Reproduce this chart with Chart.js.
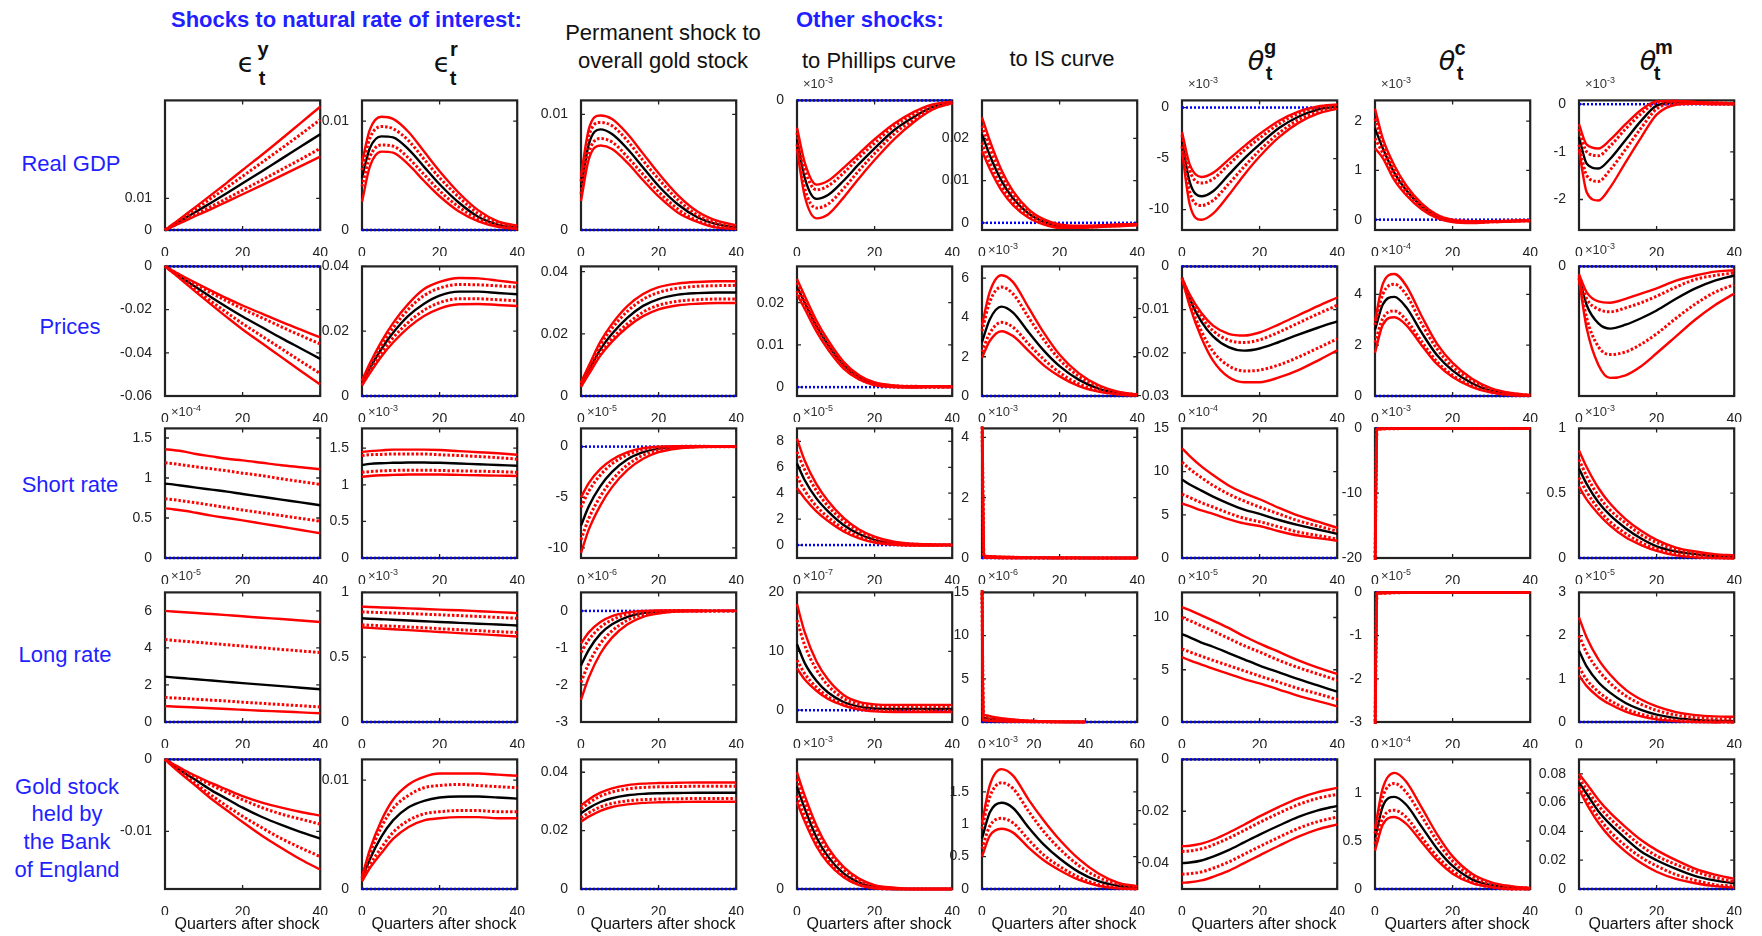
<!DOCTYPE html>
<html>
<head>
<meta charset="utf-8">
<script src="https://cdn.jsdelivr.net/npm/chart.js@4.4.0/dist/chart.umd.min.js"></script>
<style>
  body { margin: 0; width: 1762px; height: 936px; background: #fff; position: relative; overflow: hidden;
         font-family: "Liberation Sans", Arial, sans-serif; }
  .t { position: absolute; white-space: nowrap; line-height: 1; transform: translate(-50%, -50%); }
  .blue { color: #1f1fff; }
  .hdr { font-weight: bold; font-size: 22px; transform: translate(0, -50%); }
  .col { font-size: 22px; color: #111; }
  .row { font-size: 22px; }
  .greek { font-family: "DejaVu Sans", sans-serif; font-size: 27px; color: #111; }
  .idx { font-weight: bold; font-size: 20px; color: #111; }
  .xl { font-size: 16px; color: #111; }
  .exp { position: absolute; font-size: 13px; color: #333; line-height: 1; transform: translate(0, -50%); }
  .exp sup { font-size: 9px; vertical-align: 5px; }
</style>
</head>
<body>
<div class="t hdr blue" style="left:171px; top:20px">Shocks to natural rate of interest:</div>
<div class="t hdr blue" style="left:796px; top:20px">Other shocks:</div>

<div class="t greek" style="left:246px; top:62px">ϵ</div>
<div class="t idx" style="left:263px; top:49px">y</div>
<div class="t idx" style="left:262px; top:78px">t</div>
<div class="t greek" style="left:442px; top:62px">ϵ</div>
<div class="t idx" style="left:454px; top:49px">r</div>
<div class="t idx" style="left:453px; top:78px">t</div>
<div class="t col" style="left:663px; top:33px">Permanent shock to</div>
<div class="t col" style="left:663px; top:61px">overall gold stock</div>
<div class="t col" style="left:879px; top:61px">to Phillips curve</div>
<div class="t col" style="left:1062px; top:59px">to IS curve</div>
<div class="t greek" style="left:1256px; top:60px; font-style:italic">θ</div>
<div class="t idx" style="left:1270px; top:47px">g</div>
<div class="t idx" style="left:1269px; top:73px">t</div>
<div class="t greek" style="left:1447px; top:60px; font-style:italic">θ</div>
<div class="t idx" style="left:1460px; top:48px">c</div>
<div class="t idx" style="left:1460px; top:73px">t</div>
<div class="t greek" style="left:1648px; top:60px; font-style:italic">θ</div>
<div class="t idx" style="left:1664px; top:47px">m</div>
<div class="t idx" style="left:1657px; top:73px">t</div>

<div class="t row blue" style="left:71px; top:164px">Real GDP</div>
<div class="t row blue" style="left:70px; top:327px">Prices</div>
<div class="t row blue" style="left:70px; top:485px">Short rate</div>
<div class="t row blue" style="left:65px; top:655px">Long rate</div>
<div class="t row blue" style="left:67px; top:787px">Gold stock</div>
<div class="t row blue" style="left:67px; top:814px">held by</div>
<div class="t row blue" style="left:67px; top:842px">the Bank</div>
<div class="t row blue" style="left:67px; top:870px">of England</div>

<script>
// horizon in quarters after the shock
const quarters = [0, 2, 5, 8, 12, 16, 20, 25, 30, 35, 40];
// finer start for the panels that jump at impact
const spikeQuarters = [0, 0.5, 1, 5, 10, 20, 30, 40];

// every panel: [median, inner upper, inner lower, outer upper, outer lower]

// Real GDP
const gdpEy = [
  [0, 0.0014, 0.0036, 0.0058, 0.0087, 0.0117, 0.0148, 0.0186, 0.0225, 0.0264, 0.0303],
  [0, 0.0016, 0.0041, 0.0067, 0.0101, 0.0135, 0.0170, 0.0214, 0.0258, 0.0303, 0.0349],
  [0, 0.0012, 0.0031, 0.0050, 0.0075, 0.0100, 0.0126, 0.0158, 0.0191, 0.0224, 0.0258],
  [0, 0.0018, 0.0046, 0.0074, 0.0112, 0.0150, 0.0190, 0.0238, 0.0288, 0.0339, 0.0390],
  [0, 0.0011, 0.0028, 0.0045, 0.0067, 0.0090, 0.0113, 0.0142, 0.0172, 0.0202, 0.0232]
];
const gdpEr = [
  [0.0048, 0.0075, 0.0086, 0.0085, 0.0074, 0.0058, 0.0042, 0.0025, 0.0012, 0.0005, 0.0002],
  [0.0055, 0.0084, 0.0095, 0.0093, 0.0082, 0.0065, 0.0048, 0.0030, 0.0015, 0.0007, 0.0003],
  [0.0040, 0.0067, 0.0078, 0.0077, 0.0066, 0.0051, 0.0036, 0.0021, 0.0010, 0.0004, 0.0001],
  [0.0062, 0.0092, 0.0104, 0.0102, 0.0090, 0.0072, 0.0054, 0.0034, 0.0018, 0.0008, 0.0004],
  [0.0026, 0.0058, 0.0072, 0.0071, 0.0060, 0.0045, 0.0031, 0.0017, 0.0008, 0.0003, 0.0001]
];
const gdpGold = [
  [0.0036, 0.0074, 0.0087, 0.0083, 0.0070, 0.0054, 0.0038, 0.0022, 0.0011, 0.0005, 0.0002],
  [0.0042, 0.0081, 0.0093, 0.0090, 0.0077, 0.0060, 0.0044, 0.0026, 0.0013, 0.0006, 0.0003],
  [0.0031, 0.0067, 0.0079, 0.0076, 0.0063, 0.0048, 0.0033, 0.0018, 0.0008, 0.0003, 0.0001],
  [0.0047, 0.0087, 0.0099, 0.0096, 0.0083, 0.0066, 0.0049, 0.0030, 0.0016, 0.0008, 0.0004],
  [0.0025, 0.0061, 0.0073, 0.0070, 0.0058, 0.0043, 0.0029, 0.0015, 0.0007, 0.0002, 0.0001]
];
const gdpPc = [
  [-0.90, -1.80, -2.28, -2.19, -1.86, -1.47, -1.11, -0.69, -0.39, -0.15, -0.05],
  [-0.75, -1.59, -2.07, -1.98, -1.68, -1.32, -0.99, -0.60, -0.33, -0.12, -0.04],
  [-1.02, -2.04, -2.49, -2.40, -2.04, -1.62, -1.23, -0.78, -0.45, -0.18, -0.06],
  [-0.63, -1.44, -1.95, -1.86, -1.56, -1.23, -0.90, -0.54, -0.27, -0.09, -0.03],
  [-1.14, -2.22, -2.73, -2.64, -2.25, -1.80, -1.38, -0.90, -0.51, -0.21, -0.06]
];
const gdpIs = [
  [0.021, 0.016, 0.0100, 0.0058, 0.0022, 0.0002, -0.0008, -0.0010, -0.0008, -0.0006, -0.0004],
  [0.023, 0.0178, 0.0112, 0.0066, 0.0027, 0.0005, -0.0006, -0.0009, -0.0007, -0.0005, -0.0003],
  [0.019, 0.0142, 0.0088, 0.0050, 0.0017, -0.0001, -0.0010, -0.0011, -0.0009, -0.0007, -0.0005],
  [0.025, 0.0195, 0.0125, 0.0075, 0.0032, 0.0008, -0.0004, -0.0007, -0.0006, -0.0004, -0.0003],
  [0.017, 0.0128, 0.0077, 0.0042, 0.0012, -0.0004, -0.0012, -0.0012, -0.0010, -0.0008, -0.0006]
];
const gdpTg = [
  [-3.3, -7.3, -8.7, -8.2, -6.6, -5.0, -3.6, -2.0, -0.9, -0.2, 0.1],
  [-2.7, -6.2, -7.4, -7.0, -5.6, -4.2, -3.0, -1.6, -0.6, 0.0, 0.2],
  [-3.8, -8.3, -9.6, -9.1, -7.5, -5.8, -4.2, -2.5, -1.2, -0.4, 0.0],
  [-2.4, -5.6, -6.8, -6.4, -5.1, -3.8, -2.6, -1.3, -0.4, 0.1, 0.3],
  [-4.3, -9.5, -11.0, -10.4, -8.6, -6.6, -4.8, -2.9, -1.5, -0.6, -0.1]
];
const gdpTc = [
  [1.85, 1.45, 0.95, 0.60, 0.27, 0.07, -0.02, -0.05, -0.04, -0.03, -0.02],
  [2.05, 1.55, 1.02, 0.65, 0.30, 0.09, -0.01, -0.04, -0.035, -0.025, -0.015],
  [1.65, 1.35, 0.88, 0.55, 0.24, 0.05, -0.03, -0.06, -0.045, -0.035, -0.025],
  [2.25, 1.65, 1.10, 0.70, 0.33, 0.10, 0.0, -0.03, -0.03, -0.02, -0.01],
  [1.45, 1.25, 0.80, 0.50, 0.21, 0.03, -0.05, -0.07, -0.05, -0.04, -0.03]
];
const gdpTm = [
  [-0.69, -1.25, -1.35, -1.15, -0.75, -0.35, -0.03, 0.04, 0.03, 0.02, 0.01],
  [-0.52, -1.0, -1.08, -0.88, -0.52, -0.2, 0.03, 0.06, 0.04, 0.03, 0.02],
  [-0.85, -1.5, -1.62, -1.38, -0.95, -0.50, -0.10, 0.02, 0.02, 0.01, 0.0],
  [-0.42, -0.85, -0.93, -0.75, -0.42, -0.12, 0.06, 0.07, 0.05, 0.03, 0.02],
  [-0.95, -1.85, -2.02, -1.75, -1.22, -0.70, -0.22, -0.01, 0.01, 0.0, 0.0]
];

// Prices
const pricesEy = [
  [0, -0.0024, -0.0061, -0.0097, -0.0144, -0.0189, -0.0232, -0.0282, -0.0332, -0.0380, -0.0428],
  [0, -0.0021, -0.0053, -0.0084, -0.0124, -0.0161, -0.0197, -0.0238, -0.0280, -0.0320, -0.0359],
  [0, -0.0027, -0.0068, -0.0109, -0.0163, -0.0215, -0.0265, -0.0323, -0.0381, -0.0439, -0.0496],
  [0, -0.0020, -0.0049, -0.0077, -0.0113, -0.0148, -0.0181, -0.0219, -0.0257, -0.0293, -0.0329],
  [0, -0.0029, -0.0074, -0.0119, -0.0178, -0.0236, -0.0292, -0.0356, -0.0420, -0.0484, -0.0547]
];
const pricesEr = [
  [0.0040, 0.0085, 0.0145, 0.0195, 0.0248, 0.0285, 0.0310, 0.0322, 0.0322, 0.0318, 0.0314],
  [0.0045, 0.0093, 0.0157, 0.0210, 0.0268, 0.0310, 0.0333, 0.0344, 0.0343, 0.0340, 0.0336],
  [0.0035, 0.0077, 0.0133, 0.0180, 0.0228, 0.0265, 0.0288, 0.0300, 0.0300, 0.0297, 0.0294],
  [0.0048, 0.0100, 0.0168, 0.0225, 0.0285, 0.0330, 0.0352, 0.0364, 0.0363, 0.0356, 0.0349],
  [0.0032, 0.0070, 0.0122, 0.0165, 0.0212, 0.0247, 0.0270, 0.0283, 0.0284, 0.0281, 0.0278]
];
const pricesGold = [
  [0.0036, 0.0082, 0.0150, 0.0200, 0.0252, 0.0290, 0.0312, 0.0326, 0.0331, 0.0333, 0.0333],
  [0.0040, 0.0090, 0.0164, 0.0218, 0.0273, 0.0311, 0.0333, 0.0347, 0.0353, 0.0355, 0.0356],
  [0.0032, 0.0075, 0.0138, 0.0185, 0.0233, 0.0270, 0.0292, 0.0305, 0.0310, 0.0312, 0.0312],
  [0.0044, 0.0097, 0.0175, 0.0232, 0.0290, 0.0328, 0.0350, 0.0362, 0.0367, 0.0369, 0.0369],
  [0.0029, 0.0070, 0.0130, 0.0175, 0.0222, 0.0257, 0.0279, 0.0292, 0.0297, 0.0299, 0.0299]
];
const pricesPc = [
  [0.0238, 0.0200, 0.0145, 0.0100, 0.0052, 0.0023, 0.0008, 0.0002, 0.0001, 0.0001, 0.0001],
  [0.0248, 0.0208, 0.0152, 0.0106, 0.0056, 0.0026, 0.0010, 0.0003, 0.0002, 0.0001, 0.0001],
  [0.0228, 0.0192, 0.0138, 0.0094, 0.0048, 0.0020, 0.0006, 0.0001, 0.0000, 0.0000, 0.0000],
  [0.0256, 0.0216, 0.0158, 0.0111, 0.0060, 0.0028, 0.0011, 0.0004, 0.0002, 0.0002, 0.0002],
  [0.0220, 0.0185, 0.0132, 0.0089, 0.0044, 0.0018, 0.0005, 0.0000, -0.0001, 0.0000, 0.0000]
];
const pricesIs = [
  [2.75, 3.90, 4.55, 4.25, 3.25, 2.30, 1.52, 0.82, 0.38, 0.15, 0.05],
  [3.30, 4.80, 5.55, 5.20, 4.00, 2.85, 1.85, 1.00, 0.48, 0.19, 0.07],
  [2.25, 3.20, 3.75, 3.50, 2.65, 1.85, 1.20, 0.62, 0.28, 0.10, 0.03],
  [3.60, 5.30, 6.15, 5.80, 4.50, 3.20, 2.10, 1.15, 0.55, 0.22, 0.08],
  [1.95, 2.80, 3.30, 3.05, 2.30, 1.55, 1.00, 0.50, 0.22, 0.08, 0.02]
];
const pricesTg = [
  [-0.0027, -0.0075, -0.0128, -0.0162, -0.0187, -0.0195, -0.0190, -0.0175, -0.0158, -0.0142, -0.0127],
  [-0.0027, -0.0070, -0.0117, -0.0149, -0.0171, -0.0176, -0.0170, -0.0152, -0.0131, -0.0110, -0.0090],
  [-0.0027, -0.0085, -0.0150, -0.0197, -0.0230, -0.0242, -0.0240, -0.0228, -0.0210, -0.0189, -0.0168],
  [-0.0027, -0.0065, -0.0108, -0.0137, -0.0156, -0.0160, -0.0153, -0.0134, -0.0113, -0.0092, -0.0072],
  [-0.0027, -0.0092, -0.0165, -0.0218, -0.0256, -0.0268, -0.0268, -0.0257, -0.0240, -0.0218, -0.0194]
];
const pricesTc = [
  [2.6, 3.6, 3.9, 3.5, 2.5, 1.6, 1.0, 0.5, 0.2, 0.07, 0.02],
  [2.8, 4.0, 4.4, 4.0, 2.85, 1.85, 1.15, 0.6, 0.25, 0.1, 0.03],
  [2.1, 3.05, 3.35, 3.0, 2.15, 1.35, 0.82, 0.4, 0.15, 0.05, 0.01],
  [2.95, 4.4, 4.8, 4.35, 3.15, 2.05, 1.3, 0.68, 0.3, 0.12, 0.04],
  [1.7, 2.8, 3.1, 2.8, 2.0, 1.25, 0.75, 0.35, 0.13, 0.04, 0.01]
];
const pricesTm = [
  [-0.56, -2.10, -3.08, -3.36, -3.15, -2.80, -2.38, -1.75, -1.19, -0.77, -0.49],
  [-0.49, -1.75, -2.31, -2.45, -2.24, -1.96, -1.61, -1.12, -0.70, -0.49, -0.35],
  [-0.63, -2.80, -4.34, -4.76, -4.62, -4.20, -3.64, -2.80, -2.03, -1.40, -0.98],
  [-0.42, -1.40, -1.89, -1.96, -1.75, -1.47, -1.19, -0.77, -0.49, -0.28, -0.21],
  [-0.70, -3.36, -5.32, -6.02, -5.88, -5.39, -4.69, -3.78, -2.87, -2.10, -1.47]
];

// Short rate
const shortEy = [
  [0.93, 0.92, 0.90, 0.88, 0.855, 0.83, 0.80, 0.765, 0.73, 0.695, 0.66],
  [1.19, 1.18, 1.16, 1.14, 1.115, 1.09, 1.06, 1.03, 0.99, 0.955, 0.92],
  [0.74, 0.73, 0.71, 0.69, 0.66, 0.63, 0.60, 0.565, 0.53, 0.495, 0.46],
  [1.36, 1.35, 1.33, 1.30, 1.27, 1.24, 1.22, 1.19, 1.16, 1.135, 1.11],
  [0.62, 0.61, 0.59, 0.565, 0.53, 0.50, 0.47, 0.43, 0.39, 0.35, 0.31]
];
const shortEr = [
  [1.27, 1.285, 1.295, 1.30, 1.305, 1.305, 1.30, 1.29, 1.28, 1.27, 1.26],
  [1.40, 1.41, 1.415, 1.42, 1.42, 1.42, 1.41, 1.40, 1.385, 1.37, 1.35],
  [1.17, 1.18, 1.19, 1.195, 1.20, 1.20, 1.195, 1.19, 1.185, 1.18, 1.17],
  [1.45, 1.46, 1.47, 1.48, 1.48, 1.48, 1.475, 1.46, 1.445, 1.43, 1.41],
  [1.11, 1.12, 1.13, 1.135, 1.14, 1.14, 1.14, 1.135, 1.13, 1.125, 1.12]
];
const shortGold = [
  [-7.8, -5.9, -3.9, -2.5, -1.25, -0.55, -0.2, -0.05, 0.0, 0.0, 0.0],
  [-6.0, -4.4, -2.8, -1.7, -0.8, -0.3, -0.07, 0.02, 0.03, 0.02, 0.01],
  [-9.2, -7.1, -4.9, -3.3, -1.8, -0.85, -0.35, -0.1, -0.02, 0.0, 0.0],
  [-5.0, -3.6, -2.2, -1.3, -0.55, -0.15, 0.0, 0.05, 0.05, 0.03, 0.02],
  [-10.5, -8.2, -5.8, -4.0, -2.3, -1.2, -0.55, -0.18, -0.05, -0.02, 0.0]
];
const shortPc = [
  [6.3, 5.0, 3.6, 2.6, 1.55, 0.85, 0.4, 0.12, 0.02, 0.0, 0.0],
  [7.2, 5.8, 4.2, 3.0, 1.85, 1.05, 0.55, 0.2, 0.07, 0.03, 0.02],
  [5.3, 4.2, 3.0, 2.15, 1.25, 0.65, 0.28, 0.06, -0.02, -0.02, -0.01],
  [8.2, 6.5, 4.7, 3.4, 2.1, 1.2, 0.65, 0.25, 0.1, 0.05, 0.03],
  [4.4, 3.6, 2.6, 1.85, 1.05, 0.52, 0.2, 0.02, -0.04, -0.03, -0.02]
];
const shortIs = [
  [4.8, 0.04, 0.03, 0.02, 0.01, 0, 0, 0],
  [4.8, 0.06, 0.05, 0.03, 0.02, 0.01, 0, 0],
  [4.8, 0.02, 0.02, 0.01, 0, 0, 0, 0],
  [4.8, 0.08, 0.07, 0.04, 0.02, 0.01, 0, 0],
  [4.8, 0.01, 0.01, 0, 0, 0, 0, 0]
];
const shortTg = [
  [9.1, 8.5, 7.8, 7.1, 6.3, 5.6, 5.1, 4.4, 3.8, 3.3, 2.8],
  [11.1, 10.3, 9.3, 8.4, 7.4, 6.6, 5.9, 5.1, 4.3, 3.7, 3.1],
  [7.4, 7.0, 6.4, 5.9, 5.2, 4.6, 4.2, 3.6, 3.0, 2.6, 2.2],
  [12.7, 11.8, 10.6, 9.6, 8.4, 7.5, 6.8, 5.8, 4.9, 4.2, 3.5],
  [6.3, 6.0, 5.5, 5.1, 4.5, 4.0, 3.7, 3.1, 2.6, 2.3, 2.0]
];
const shortTc = [
  [-22, -0.10, -0.06, -0.03, -0.01, 0, 0, 0],
  [-22, -0.06, -0.04, -0.02, -0.01, 0, 0, 0],
  [-22, -0.14, -0.08, -0.04, -0.02, 0, 0, 0],
  [-22, -0.03, -0.02, -0.01, 0, 0, 0, 0],
  [-22, -0.18, -0.10, -0.05, -0.02, -0.01, 0, 0]
];
const shortTm = [
  [0.69, 0.57, 0.43, 0.33, 0.23, 0.15, 0.09, 0.05, 0.03, 0.015, 0.01],
  [0.76, 0.63, 0.48, 0.37, 0.27, 0.18, 0.12, 0.065, 0.04, 0.02, 0.015],
  [0.62, 0.51, 0.38, 0.28, 0.19, 0.12, 0.07, 0.035, 0.015, 0.005, 0.0],
  [0.83, 0.70, 0.54, 0.42, 0.30, 0.21, 0.14, 0.08, 0.05, 0.03, 0.02],
  [0.55, 0.45, 0.34, 0.25, 0.16, 0.10, 0.055, 0.02, 0.005, 0.0, -0.005]
];

// Long rate
const longEy = [
  [2.45, 2.41, 2.36, 2.31, 2.24, 2.17, 2.10, 2.02, 1.94, 1.85, 1.77],
  [4.45, 4.41, 4.36, 4.31, 4.24, 4.17, 4.10, 4.01, 3.92, 3.84, 3.75],
  [1.33, 1.30, 1.27, 1.23, 1.18, 1.13, 1.07, 1.01, 0.94, 0.88, 0.81],
  [6.0, 5.97, 5.93, 5.89, 5.83, 5.77, 5.71, 5.63, 5.56, 5.48, 5.4],
  [0.86, 0.84, 0.81, 0.78, 0.74, 0.70, 0.66, 0.61, 0.57, 0.52, 0.47]
];
const longEr = [
  [0.80, 0.797, 0.793, 0.789, 0.783, 0.777, 0.772, 0.765, 0.758, 0.752, 0.745],
  [0.85, 0.847, 0.844, 0.841, 0.837, 0.832, 0.827, 0.821, 0.814, 0.807, 0.80],
  [0.75, 0.747, 0.743, 0.739, 0.733, 0.727, 0.72, 0.712, 0.705, 0.697, 0.69],
  [0.89, 0.887, 0.884, 0.881, 0.877, 0.872, 0.867, 0.862, 0.855, 0.848, 0.84],
  [0.73, 0.726, 0.721, 0.716, 0.709, 0.702, 0.695, 0.686, 0.678, 0.669, 0.66]
];
const longGold = [
  [-1.47, -1.05, -0.62, -0.36, -0.16, -0.06, -0.02, 0.0, 0.0, 0.0, 0.0],
  [-1.12, -0.78, -0.44, -0.24, -0.09, -0.03, 0.0, 0.01, 0.0, 0.0, 0.0],
  [-1.93, -1.42, -0.88, -0.54, -0.25, -0.10, -0.04, -0.01, 0.0, 0.0, 0.0],
  [-0.88, -0.58, -0.30, -0.14, -0.04, 0.0, 0.01, 0.01, 0.01, 0.0, 0.0],
  [-2.4, -1.80, -1.15, -0.72, -0.36, -0.16, -0.07, -0.02, -0.01, 0.0, 0.0]
];
const longPc = [
  [11.2, 8.0, 5.0, 3.0, 1.4, 0.6, 0.3, 0.2, 0.2, 0.2, 0.2],
  [15.3, 11.0, 6.9, 4.2, 2.0, 1.0, 0.7, 0.6, 0.6, 0.6, 0.6],
  [8.5, 6.2, 3.9, 2.3, 1.0, 0.3, 0.0, -0.1, -0.1, -0.1, -0.1],
  [18.0, 13.2, 8.3, 5.2, 2.6, 1.4, 1.0, 0.9, 0.9, 0.9, 0.9],
  [7.1, 5.2, 3.3, 1.9, 0.8, 0.1, -0.2, -0.3, -0.3, -0.3, -0.3]
];
const longIs = [
  [16, 0.5, 0.45, 0.3, 0.2, 0.06, 0.02, 0],
  [16, 0.7, 0.62, 0.42, 0.27, 0.09, 0.03, 0.01],
  [16, 0.35, 0.3, 0.2, 0.12, 0.03, 0.01, 0],
  [16, 0.9, 0.8, 0.55, 0.35, 0.12, 0.04, 0.01],
  [16, 0.2, 0.18, 0.1, 0.06, 0.01, 0, 0]
];
const longTg = [
  [8.4, 8.1, 7.6, 7.2, 6.6, 6.0, 5.4, 4.75, 4.1, 3.5, 2.9],
  [10.0, 9.7, 9.2, 8.7, 8.0, 7.3, 6.7, 5.9, 5.2, 4.6, 4.0],
  [7.0, 6.7, 6.3, 5.9, 5.4, 4.9, 4.4, 3.8, 3.2, 2.7, 2.15],
  [11.0, 10.7, 10.2, 9.7, 9.0, 8.2, 7.5, 6.7, 5.9, 5.2, 4.6],
  [6.2, 5.9, 5.5, 5.1, 4.6, 4.1, 3.7, 3.1, 2.5, 2.0, 1.5]
];
const longTc = [
  [-3.3, -0.02, -0.01, 0, 0, 0, 0, 0],
  [-3.3, -0.01, -0.01, 0, 0, 0, 0, 0],
  [-3.3, -0.03, -0.02, -0.01, 0, 0, 0, 0],
  [-3.3, -0.01, 0, 0, 0, 0, 0, 0],
  [-3.3, -0.04, -0.02, -0.01, 0, 0, 0, 0]
];
const longTm = [
  [1.65, 1.28, 0.92, 0.68, 0.44, 0.28, 0.17, 0.09, 0.05, 0.03, 0.02],
  [2.0, 1.6, 1.2, 0.9, 0.61, 0.41, 0.27, 0.16, 0.10, 0.07, 0.06],
  [1.27, 0.98, 0.70, 0.50, 0.31, 0.18, 0.10, 0.04, 0.02, 0.01, 0.0],
  [2.42, 1.95, 1.45, 1.10, 0.75, 0.52, 0.36, 0.23, 0.16, 0.13, 0.12],
  [1.08, 0.83, 0.58, 0.41, 0.24, 0.13, 0.06, 0.02, 0.0, -0.01, -0.01]
];

// Gold stock held by the Bank of England
const goldEy = [
  [0, -0.0008, -0.0019, -0.0029, -0.0043, -0.0055, -0.0067, -0.0080, -0.0091, -0.0101, -0.0110],
  [0, -0.0007, -0.0017, -0.0025, -0.0036, -0.0046, -0.0056, -0.0067, -0.0076, -0.0083, -0.0090],
  [0, -0.0009, -0.0022, -0.0034, -0.0050, -0.0065, -0.0079, -0.0095, -0.0110, -0.0123, -0.0135],
  [0, -0.0006, -0.0015, -0.0023, -0.0033, -0.0042, -0.0051, -0.0060, -0.0067, -0.0073, -0.0078],
  [0, -0.0010, -0.0024, -0.0037, -0.0055, -0.0071, -0.0087, -0.0106, -0.0123, -0.0139, -0.0153]
];
const goldEr = [
  [0.0009, 0.0027, 0.0048, 0.0063, 0.0075, 0.0081, 0.0084, 0.0085, 0.0085, 0.0084, 0.0083],
  [0.0010, 0.0032, 0.0057, 0.0074, 0.0086, 0.0093, 0.0095, 0.0096, 0.0095, 0.0094, 0.0093],
  [0.0008, 0.0022, 0.0038, 0.0052, 0.0063, 0.0069, 0.0071, 0.0072, 0.0072, 0.0071, 0.0071],
  [0.0011, 0.0036, 0.0063, 0.0082, 0.0096, 0.0103, 0.0106, 0.0106, 0.0106, 0.0105, 0.0104],
  [0.0007, 0.0019, 0.0033, 0.0046, 0.0057, 0.0063, 0.0065, 0.0066, 0.0066, 0.0065, 0.0065]
];
const goldGold = [
  [0.0259, 0.0277, 0.0298, 0.0311, 0.0321, 0.0326, 0.0328, 0.0329, 0.0330, 0.0330, 0.0330],
  [0.0275, 0.0295, 0.0318, 0.0332, 0.0343, 0.0348, 0.0350, 0.0351, 0.0352, 0.0352, 0.0352],
  [0.0244, 0.0261, 0.0281, 0.0293, 0.0302, 0.0306, 0.0308, 0.0309, 0.0310, 0.0310, 0.0310],
  [0.0286, 0.0307, 0.0330, 0.0345, 0.0356, 0.0361, 0.0363, 0.0364, 0.0365, 0.0365, 0.0365],
  [0.0231, 0.0248, 0.0268, 0.0281, 0.0290, 0.0295, 0.0297, 0.0298, 0.0299, 0.0299, 0.0299]
];
const goldPc = [
  [1.58, 1.24, 0.80, 0.50, 0.24, 0.10, 0.03, 0, 0, 0, 0],
  [1.70, 1.34, 0.90, 0.58, 0.30, 0.13, 0.044, 0.01, 0, 0, 0],
  [1.44, 1.12, 0.72, 0.44, 0.20, 0.07, 0.016, 0, 0, 0, 0],
  [1.80, 1.44, 0.98, 0.64, 0.34, 0.16, 0.06, 0.02, 0, 0, 0],
  [1.34, 1.04, 0.66, 0.40, 0.18, 0.06, 0.01, 0, 0, 0, 0]
];
const goldIs = [
  [0.78, 1.18, 1.33, 1.25, 0.95, 0.68, 0.47, 0.26, 0.12, 0.05, 0.02],
  [0.93, 1.42, 1.64, 1.55, 1.20, 0.88, 0.62, 0.36, 0.18, 0.08, 0.03],
  [0.62, 0.97, 1.09, 1.02, 0.76, 0.52, 0.35, 0.18, 0.07, 0.02, 0.0],
  [1.02, 1.60, 1.85, 1.75, 1.38, 1.05, 0.76, 0.46, 0.24, 0.10, 0.04],
  [0.50, 0.82, 0.93, 0.87, 0.64, 0.44, 0.29, 0.14, 0.05, 0.01, 0.0]
];
const goldTg = [
  [-0.0400, -0.0398, -0.0390, -0.0375, -0.0350, -0.0320, -0.0290, -0.0255, -0.0222, -0.0197, -0.0179],
  [-0.0355, -0.0353, -0.0345, -0.0330, -0.0304, -0.0274, -0.0243, -0.0207, -0.0174, -0.0150, -0.0135],
  [-0.0443, -0.0441, -0.0434, -0.0420, -0.0396, -0.0366, -0.0336, -0.0300, -0.0266, -0.0240, -0.0222],
  [-0.0335, -0.0333, -0.0325, -0.0310, -0.0283, -0.0252, -0.0220, -0.0183, -0.0150, -0.0126, -0.0110],
  [-0.0476, -0.0474, -0.0467, -0.0453, -0.0430, -0.0400, -0.0370, -0.0333, -0.0298, -0.0270, -0.0251]
];
const goldTc = [
  [0.53, 0.86, 0.96, 0.88, 0.65, 0.42, 0.24, 0.10, 0.04, 0.01, 0.0],
  [0.58, 0.96, 1.10, 1.01, 0.76, 0.50, 0.29, 0.13, 0.05, 0.02, 0.01],
  [0.47, 0.74, 0.82, 0.75, 0.54, 0.34, 0.19, 0.07, 0.02, 0.0, 0.0],
  [0.63, 1.05, 1.21, 1.12, 0.85, 0.57, 0.34, 0.16, 0.07, 0.03, 0.01],
  [0.40, 0.67, 0.75, 0.68, 0.49, 0.30, 0.16, 0.06, 0.02, 0.0, 0.0]
];
const goldTm = [
  [0.074, 0.066, 0.054, 0.045, 0.035, 0.026, 0.020, 0.014, 0.009, 0.006, 0.004],
  [0.077, 0.069, 0.058, 0.049, 0.039, 0.030, 0.023, 0.017, 0.012, 0.008, 0.005],
  [0.071, 0.062, 0.050, 0.040, 0.030, 0.022, 0.016, 0.010, 0.006, 0.003, 0.002],
  [0.080, 0.073, 0.062, 0.053, 0.043, 0.034, 0.027, 0.020, 0.014, 0.010, 0.007],
  [0.069, 0.059, 0.046, 0.036, 0.026, 0.018, 0.012, 0.007, 0.004, 0.002, 0.001]
];

// y axis limits, tick labels and the x10^n multiplier of each panel, row by row
const gdpRange = [[0, 0.041], [0, 0.0119], [0, 0.0112], [-3, 0], [-0.0017, 0.029], [-12, 0.7], [-0.21, 2.42], [-2.64, 0.08]];
const gdpTicks = [[0, 0.01], [0, 0.01], [0, 0.01], [0], [0, 0.01, 0.02], [-10, -5, 0], [0, 1, 2], [-2, -1, 0]];
const gdpExp = ['', '', '', '-3', '', '-3', '-3', '-3'];

const pricesRange = [[-0.06, 0], [0, 0.04], [0, 0.0417], [-0.0021, 0.0286], [0, 6.6], [-0.03, 0], [0, 5.1], [-7, 0]];
const pricesTicks = [[-0.06, -0.04, -0.02, 0], [0, 0.02, 0.04], [0, 0.02, 0.04], [0, 0.01, 0.02], [0, 2, 4, 6], [-0.03, -0.02, -0.01, 0], [0, 2, 4], [0]];
const pricesExp = ['', '', '', '', '-3', '', '-4', '-3'];

const shortRange = [[0, 1.62], [0, 1.77], [-11, 1.8], [-1, 9], [0, 4.3], [0, 15], [-20, 0], [0, 1]];
const shortTicks = [[0, 0.5, 1, 1.5], [0, 0.5, 1, 1.5], [-10, -5, 0], [0, 2, 4, 6, 8], [0, 2, 4], [0, 5, 10, 15], [-20, -10, 0], [0, 0.5, 1]];
const shortExp = ['-4', '-3', '-5', '-5', '-3', '-4', '-3', '-3'];

const longRange = [[0, 7], [0, 1], [-3, 0.5], [-2, 20], [0, 15], [0, 12.4], [-3, 0], [0, 3]];
const longTicks = [[0, 2, 4, 6], [0, 0.5, 1], [-3, -2, -1, 0], [0, 10, 20], [0, 5, 10, 15], [0, 5, 10], [-3, -2, -1, 0], [0, 1, 2, 3]];
const longExp = ['-5', '-3', '-6', '-7', '-6', '-5', '-5', '-5'];
const longXMax = [40, 40, 40, 40, 60, 40, 40, 40];

const goldRange = [[-0.018, 0], [0, 0.0119], [0, 0.0444], [0, 2], [0, 2], [-0.05, 0], [0, 1.35], [0, 0.09]];
const goldTicks = [[-0.01, 0], [0, 0.01], [0, 0.02, 0.04], [0], [0, 0.5, 1, 1.5], [-0.04, -0.02, 0], [0, 0.5, 1], [0, 0.02, 0.04, 0.06, 0.08]];
const goldExp = ['', '', '', '-3', '-3', '', '-4', ''];

// page layout
const colLeft = [165, 362, 581, 797, 982, 1182, 1375, 1579];
const colWidth = 164;
const rowTop = [95, 261, 423, 587, 754];
const rowHeight = 135;

const rows = [
  { panels: [gdpEy, gdpEr, gdpGold, gdpPc, gdpIs, gdpTg, gdpTc, gdpTm], range: gdpRange, ticks: gdpTicks, exp: gdpExp },
  { panels: [pricesEy, pricesEr, pricesGold, pricesPc, pricesIs, pricesTg, pricesTc, pricesTm], range: pricesRange, ticks: pricesTicks, exp: pricesExp },
  { panels: [shortEy, shortEr, shortGold, shortPc, shortIs, shortTg, shortTc, shortTm], range: shortRange, ticks: shortTicks, exp: shortExp },
  { panels: [longEy, longEr, longGold, longPc, longIs, longTg, longTc, longTm], range: longRange, ticks: longTicks, exp: longExp, xMax: longXMax },
  { panels: [goldEy, goldEr, goldGold, goldPc, goldIs, goldTg, goldTc, goldTm], range: goldRange, ticks: goldTicks, exp: goldExp }
];

Chart.defaults.font.family = '"Liberation Sans", Arial, sans-serif';
Chart.defaults.font.size = 14;
Chart.defaults.color = '#222';

const fmt = v => String(Number(Number(v).toFixed(6)));

// matlab style box with inner ticks, then the blue dotted zero line, all under the curves
const frame = {
  id: 'frame',
  beforeDatasetsDraw(chart) {
    const { ctx, chartArea: a, scales } = chart;
    ctx.save();
    ctx.strokeStyle = '#222';
    ctx.lineWidth = 1.3;
    ctx.beginPath();
    scales.x.ticks.forEach(t => {
      const px = scales.x.getPixelForValue(t.value);
      ctx.moveTo(px, a.bottom); ctx.lineTo(px, a.bottom - 4);
      ctx.moveTo(px, a.top); ctx.lineTo(px, a.top + 4);
    });
    scales.y.ticks.forEach(t => {
      const py = scales.y.getPixelForValue(t.value);
      ctx.moveTo(a.left, py); ctx.lineTo(a.left + 4, py);
      ctx.moveTo(a.right, py); ctx.lineTo(a.right - 4, py);
    });
    ctx.stroke();
    ctx.lineWidth = 2.2;
    ctx.strokeRect(a.left, a.top, a.right - a.left, a.bottom - a.top);

    const y0 = scales.y.getPixelForValue(0);
    ctx.strokeStyle = '#0000ff';
    ctx.lineWidth = 2.5;
    ctx.setLineDash([2, 2]);
    ctx.beginPath();
    ctx.moveTo(scales.x.getPixelForValue(0), y0);
    ctx.lineTo(scales.x.getPixelForValue(scales.x.max), y0);
    ctx.stroke();
    ctx.restore();
  }
};

function drawPanel(row, r, c) {
  const series = row.panels[c];
  const xs = series[0].length === spikeQuarters.length ? spikeQuarters : quarters;
  const [yMin, yMax] = row.range[c];
  const tickList = row.ticks[c];
  const xMax = row.xMax ? row.xMax[c] : 40;
  const L = 50, R = 6, T = 8, B = 26;
  const w = colWidth + L + R, h = rowHeight + T + B;

  const cv = document.createElement('canvas');
  cv.width = w;
  cv.height = h;
  cv.style.cssText = `position:absolute;left:${colLeft[c] - L}px;top:${rowTop[r] - T}px;width:${w}px;height:${h}px`;
  document.body.appendChild(cv);

  const pts = arr => arr.map((y, i) => ({ x: xs[i], y }));
  const [med, inHi, inLo, outHi, outLo] = series;
  const red = '#ff0000';

  new Chart(cv, {
    type: 'line',
    data: {
      datasets: [
        { data: pts(outHi), borderColor: red, borderWidth: 2.4 },
        { data: pts(outLo), borderColor: red, borderWidth: 2.4 },
        { data: pts(inHi), borderColor: red, borderWidth: 3, borderDash: [2.5, 2] },
        { data: pts(inLo), borderColor: red, borderWidth: 3, borderDash: [2.5, 2] },
        { data: pts(med), borderColor: '#000', borderWidth: 2.4 }
      ]
    },
    options: {
      responsive: false,
      animation: false,
      events: [],
      layout: { padding: { top: T, right: R, left: 0, bottom: 0 } },
      elements: {
        point: { radius: 0 },
        line: { cubicInterpolationMode: 'monotone', fill: false }
      },
      datasets: { line: { clip: 2 } },
      plugins: { legend: { display: false }, tooltip: { enabled: false } },
      scales: {
        x: {
          type: 'linear', min: 0, max: xMax,
          grid: { display: false }, border: { display: false },
          ticks: { stepSize: 20, padding: 7, maxRotation: 0, autoSkip: false },
          afterFit: s => { s.height = B; }
        },
        y: {
          type: 'linear', min: yMin, max: yMax,
          grid: { display: false }, border: { display: false },
          afterBuildTicks: s => { s.ticks = tickList.map(v => ({ value: v })); },
          ticks: { padding: 5, autoSkip: false, callback: v => fmt(v) },
          afterFit: s => { s.width = L; }
        }
      }
    },
    plugins: [frame]
  });

  if (row.exp[c]) {
    const e = document.createElement('div');
    e.className = 'exp';
    e.style.left = (colLeft[c] + 6) + 'px';
    e.style.top = (rowTop[r] - 12) + 'px';
    e.innerHTML = '×10<sup>' + row.exp[c] + '</sup>';
    document.body.appendChild(e);
  }
}

rows.forEach((row, r) => row.panels.forEach((_, c) => drawPanel(row, r, c)));

colLeft.forEach(x => {
  const d = document.createElement('div');
  d.className = 't xl';
  d.style.left = (x + colWidth / 2) + 'px';
  d.style.top = '924px';
  d.textContent = 'Quarters after shock';
  document.body.appendChild(d);
});
</script>
</body>
</html>
